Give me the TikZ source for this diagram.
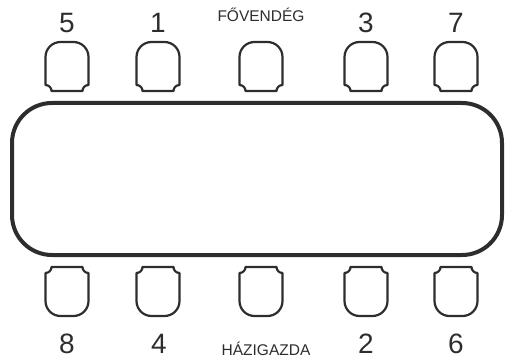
\documentclass[tikz,border=0pt]{standalone}
\usepackage{fontspec}
\setmainfont{Liberation Sans}
\usepackage{tikz}

\definecolor{ink}{RGB}{45,45,45}

\begin{document}
\begin{tikzpicture}[
    x=1pt, y=1pt,
    tableLine/.style={draw=ink, line width=4pt, rounded corners=40pt},
    chairLine/.style={draw=ink, line width=2.2pt, line join=round},
    seat/.style={text=ink, inner sep=0pt, anchor=base, font=\fontsize{28}{32}\selectfont},
    role/.style={text=ink, inner sep=0pt, anchor=base, font=\fontsize{15.5}{18}\selectfont},
    chair/.pic={
        \path[chairLine] (-15.5, 0) -- (15.5, 0)
            arc[start angle=180, end angle=90, radius=6pt]
            -- (21.5, 34) arc[start angle=0, end angle=90, radius=15pt]
            -- (-6.5, 49) arc[start angle=90, end angle=180, radius=15pt]
            -- (-21.5, 6) arc[start angle=90, end angle=0, radius=6pt]
            -- cycle;
    }
    ]
    \useasboundingbox (0, 0) rectangle (505, 359);

    % table
    \draw[tableLine] (12, 104) rectangle (502, 256);

    % chairs on the far side
    \pic at (67, 268) {chair};
    \pic at (158, 268) {chair};
    \pic at (261, 268) {chair};
    \pic at (366, 268) {chair};
    \pic at (456, 268) {chair};

    % chairs on the near side
    \pic[rotate=180] at (67, 92) {chair};
    \pic[rotate=180] at (158, 92) {chair};
    \pic[rotate=180] at (261, 92) {chair};
    \pic[rotate=180] at (366, 92) {chair};
    \pic[rotate=180] at (456, 92) {chair};

    \node[seat] (s5) at (67, 326) {5};
    \node[seat] (s1) at (158, 326) {1};
    \node[role] (guest) at (261, 337) {FŐVENDÉG};
    \node[seat] (s3) at (366, 326) {3};
    \node[seat] (s7) at (456, 326) {7};

    \node[seat] (s8) at (67, 6) {8};
    \node[seat] (s4) at (159, 6) {4};
    \node[role] (host) at (266, 4) {HÁZIGAZDA};
    \node[seat] (s2) at (366, 6) {2};
    \node[seat] (s6) at (456, 6) {6};
\end{tikzpicture}
\end{document}
